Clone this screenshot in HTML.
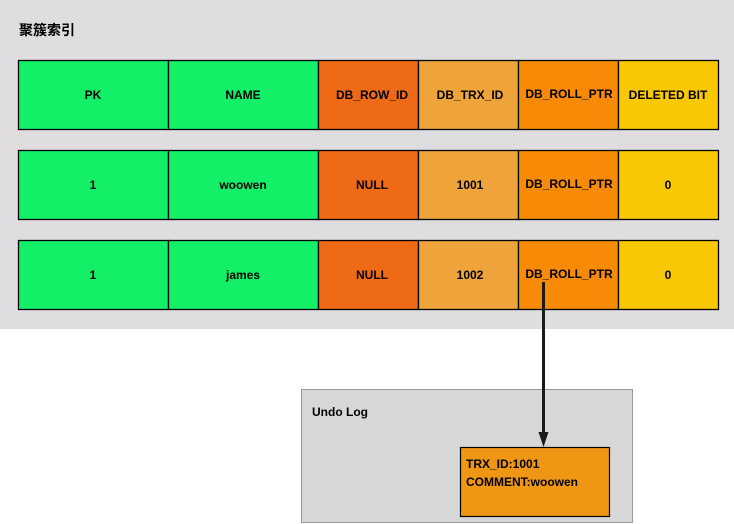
<!DOCTYPE html>
<html><head><meta charset="utf-8"><style>
html,body{margin:0;padding:0;background:#fff;width:734px;height:524px;overflow:hidden}
svg text{font-family:"Liberation Sans","Noto Sans CJK SC",sans-serif;font-weight:bold;fill:#000}
</style></head><body>
<svg width="734" height="524" viewBox="0 0 734 524" xmlns="http://www.w3.org/2000/svg">
<rect x="0" y="0" width="734" height="329" fill="#dfdddf"/>
<text x="19" y="35" font-size="14">聚簇索引</text>
<g stroke="#000" stroke-width="1.3">
<g id="r1">
<rect x="18.5" y="60.5" width="150" height="69" fill="#13f068"/>
<rect x="168.5" y="60.5" width="150" height="69" fill="#13f068"/>
<rect x="318.5" y="60.5" width="100" height="69" fill="#ef6a17"/>
<rect x="418.5" y="60.5" width="100" height="69" fill="#eea43b"/>
<rect x="518.5" y="60.5" width="100" height="69" fill="#f78a07"/>
<rect x="618.5" y="60.5" width="100" height="69" fill="#f8c804"/>
</g>
<use href="#r1" y="90"/>
<use href="#r1" y="180"/>
</g>
<g font-size="12" text-anchor="middle">
<text x="93" y="99">PK</text><text x="243" y="99">NAME</text>
<text x="372" y="99">DB_ROW_ID</text><text x="470" y="99">DB_TRX_ID</text>
<text x="569" y="98">DB_ROLL_PTR</text><text x="668" y="99">DELETED BIT</text>
<text x="93" y="189">1</text><text x="243" y="189">woowen</text>
<text x="372" y="189">NULL</text><text x="470" y="189">1001</text>
<text x="569" y="188">DB_ROLL_PTR</text><text x="668" y="189">0</text>
<text x="93" y="279">1</text><text x="243" y="279">james</text>
<text x="372" y="279">NULL</text><text x="470" y="279">1002</text>
<text x="569" y="278">DB_ROLL_PTR</text><text x="668" y="279">0</text>
</g>
<rect x="301.5" y="389.5" width="331" height="133" fill="#d7d7d7" stroke="#999" stroke-width="1"/>
<text x="312" y="416" font-size="12">Undo Log</text>
<rect x="460.5" y="447.5" width="149" height="69" fill="#ef9615" stroke="#000" stroke-width="1.2"/>
<text x="466" y="468" font-size="12">TRX_ID:1001</text>
<text x="466" y="486" font-size="12">COMMENT:woowen</text>
<line x1="543.5" y1="282" x2="543.5" y2="433" stroke="#1a1a1a" stroke-width="3"/>
<polygon points="538.5,432 548.5,432 543.5,447" fill="#1a1a1a"/>
</svg>
</body></html>
